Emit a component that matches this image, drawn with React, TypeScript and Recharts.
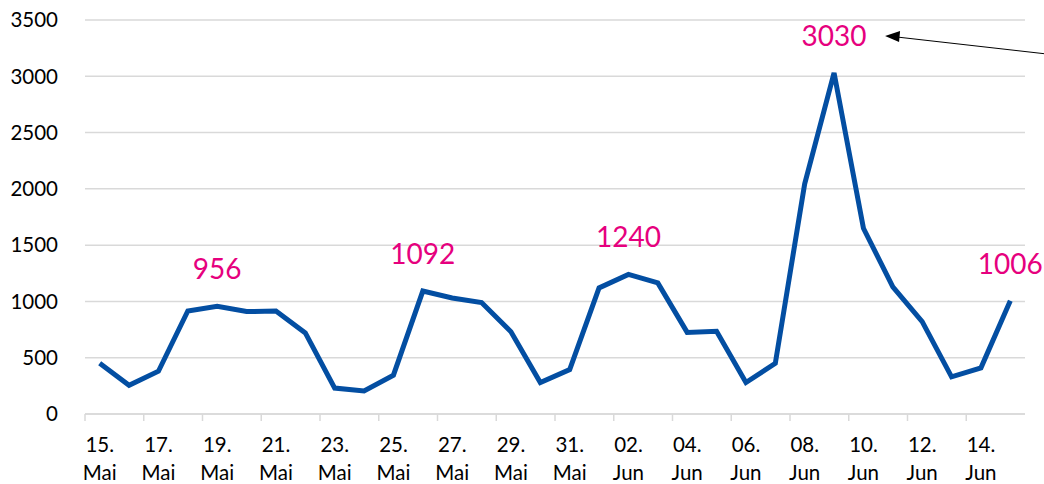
import React from "react";
import {
  LineChart,
  Line,
  XAxis,
  YAxis,
  CartesianGrid,
  LabelList,
} from "recharts";

const days = [
  "15. Mai", "16. Mai", "17. Mai", "18. Mai", "19. Mai", "20. Mai", "21. Mai",
  "22. Mai", "23. Mai", "24. Mai", "25. Mai", "26. Mai", "27. Mai", "28. Mai",
  "29. Mai", "30. Mai", "31. Mai", "01. Jun", "02. Jun", "03. Jun", "04. Jun",
  "05. Jun", "06. Jun", "07. Jun", "08. Jun", "09. Jun", "10. Jun", "11. Jun",
  "12. Jun", "13. Jun", "14. Jun", "15. Jun",
];

const cases = [
  450, 255, 380, 915, 956, 910, 915, 720, 230, 205, 345, 1092, 1030, 990, 730,
  280, 395, 1120, 1240, 1165, 725, 735, 280, 450, 2045, 3030, 1650, 1130, 820,
  330, 410, 1006,
];

// which points get a value label
const labelled = [4, 11, 18, 25, 31];
const peakIndex = 25;

const yTicks = [0, 500, 1000, 1500, 2000, 2500, 3000, 3500];

const data = days.map((d, i) => ({ day: d, value: cases[i] }));

const WIDTH = 1044;
const HEIGHT = 484;
const LEFT = 85;
const RIGHT = 19;
const HALF_BAND = (WIDTH - LEFT - RIGHT) / days.length / 2;

const FONT = "Lato, 'Open Sans', sans-serif";

function DayTick(props: any) {
  const { x, y, payload } = props;
  const [num, month] = String(payload.value).split(" ");
  return (
    <g>
      <line
        x1={x - HALF_BAND}
        x2={x - HALF_BAND}
        y1={y - 8}
        y2={y - 1}
        stroke="#d9d9d9"
        strokeWidth={1.5}
      />
      <text
        x={x}
        y={y + 30}
        textAnchor="middle"
        fontSize={20.5}
        fontFamily={FONT}
        fill="#000"
      >
        {num}
      </text>
      <text
        x={x}
        y={y + 58}
        textAnchor="middle"
        fontSize={20.5}
        fontFamily={FONT}
        fill="#000"
      >
        {month}
      </text>
    </g>
  );
}

function ValueLabel(props: any) {
  const { x, y, value, index } = props;
  if (!labelled.includes(index)) return null;
  return (
    <g>
      <text
        x={x}
        y={y - 27}
        textAnchor="middle"
        fontSize={28}
        fontFamily={FONT}
        fill="#e6007e"
      >
        {value}
      </text>
      {index === peakIndex && (
        <g>
          <line
            x1={x + 62}
            y1={y - 36}
            x2={x + 212}
            y2={y - 19}
            stroke="#000"
            strokeWidth={1}
          />
          <path
            d={`M ${x + 51} ${y - 37} L ${x + 66} ${y - 42} L ${x + 65} ${y - 31} Z`}
            fill="#000"
          />
        </g>
      )}
    </g>
  );
}

export default function App() {
  return (
    <div style={{ position: "absolute", left: 0, top: 0, background: "#fff" }}>
      <LineChart
        width={WIDTH}
        height={HEIGHT}
        data={data}
        margin={{ top: 20, right: RIGHT, left: 0, bottom: 0 }}
      >
        <CartesianGrid
          vertical={false}
          stroke="#d9d9d9"
          strokeWidth={1.5}
        />
        <XAxis
          dataKey="day"
          interval={1}
          height={70}
          padding={{ left: HALF_BAND, right: HALF_BAND }}
          axisLine={{ stroke: "#d9d9d9", strokeWidth: 1.5 }}
          tickLine={false}
          tick={<DayTick />}
        />
        <YAxis
          domain={[0, 3500]}
          ticks={yTicks}
          width={LEFT}
          axisLine={false}
          tickLine={false}
          tickMargin={21}
          tick={{ fontSize: 20.5, fontFamily: FONT, fill: "#000" }}
        />
        <Line
          type="linear"
          dataKey="value"
          stroke="#034ea2"
          strokeWidth={5}
          dot={false}
          isAnimationActive={false}
        >
          <LabelList dataKey="value" content={<ValueLabel />} />
        </Line>
      </LineChart>
    </div>
  );
}
